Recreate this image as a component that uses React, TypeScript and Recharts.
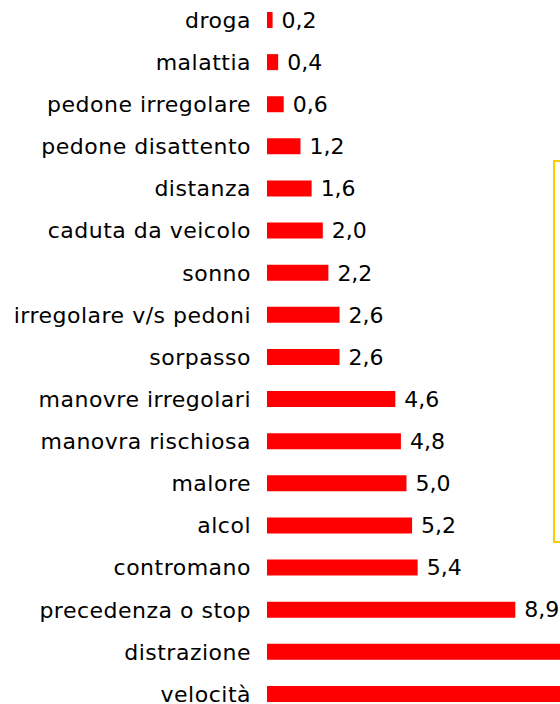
import { BarChart, Bar, XAxis, YAxis, LabelList } from 'recharts';

// causes, top to bottom as drawn
const causes = [
  'droga',
  'malattia',
  'pedone irregolare',
  'pedone disattento',
  'distanza',
  'caduta da veicolo',
  'sonno',
  'irregolare v/s pedoni',
  'sorpasso',
  'manovre irregolari',
  'manovra rischiosa',
  'malore',
  'alcol',
  'contromano',
  'precedenza o stop',
  'distrazione',
  'velocità',
];

// percentages; the last two bars run off the right edge of the picture
const percent = [0.2, 0.4, 0.6, 1.2, 1.6, 2.0, 2.2, 2.6, 2.6, 4.6, 4.8, 5.0, 5.2, 5.4, 8.9, 14.3, 15.6];

const data = causes.map((name, i) => ({ name, value: percent[i] }));

const FONT = '"DejaVu Sans", Verdana, sans-serif';

const fmt = (v: unknown) => Number(v).toFixed(1).replace('.', ',');

export default function App() {
  return (
    <div
      style={{
        position: 'fixed',
        left: 0,
        top: 0,
        width: 560,
        height: 704,
        overflow: 'hidden',
        background: '#fff',
        fontFamily: FONT,
      }}
    >
      <div style={{ position: 'absolute', left: 0, top: -1 }}>
        <BarChart
          width={825}
          height={716}
          data={data}
          layout="vertical"
          margin={{ top: 0, right: 0, bottom: 0, left: 0 }}
          barSize={16}
        >
          <XAxis type="number" domain={[0, 20]} hide />
          <YAxis
            type="category"
            dataKey="name"
            width={267}
            axisLine={false}
            tickLine={false}
            tickSize={0}
            tickMargin={16}
            interval={0}
            tick={{ fontSize: 22, fill: '#000', fontFamily: FONT, letterSpacing: 0.5 }}
          />
          <Bar dataKey="value" fill="#ff0000" isAnimationActive={false}>
            <LabelList
              dataKey="value"
              position="right"
              offset={9}
              formatter={fmt}
              style={{ fontSize: 22, fill: '#000', fontFamily: FONT }}
            />
          </Bar>
        </BarChart>
      </div>
      {/* edge of the legend box, mostly outside the picture */}
      <div
        style={{
          position: 'absolute',
          left: 553,
          top: 160,
          width: 120,
          height: 383,
          border: '2px solid #ffcc00',
          boxSizing: 'border-box',
        }}
      />
    </div>
  );
}
